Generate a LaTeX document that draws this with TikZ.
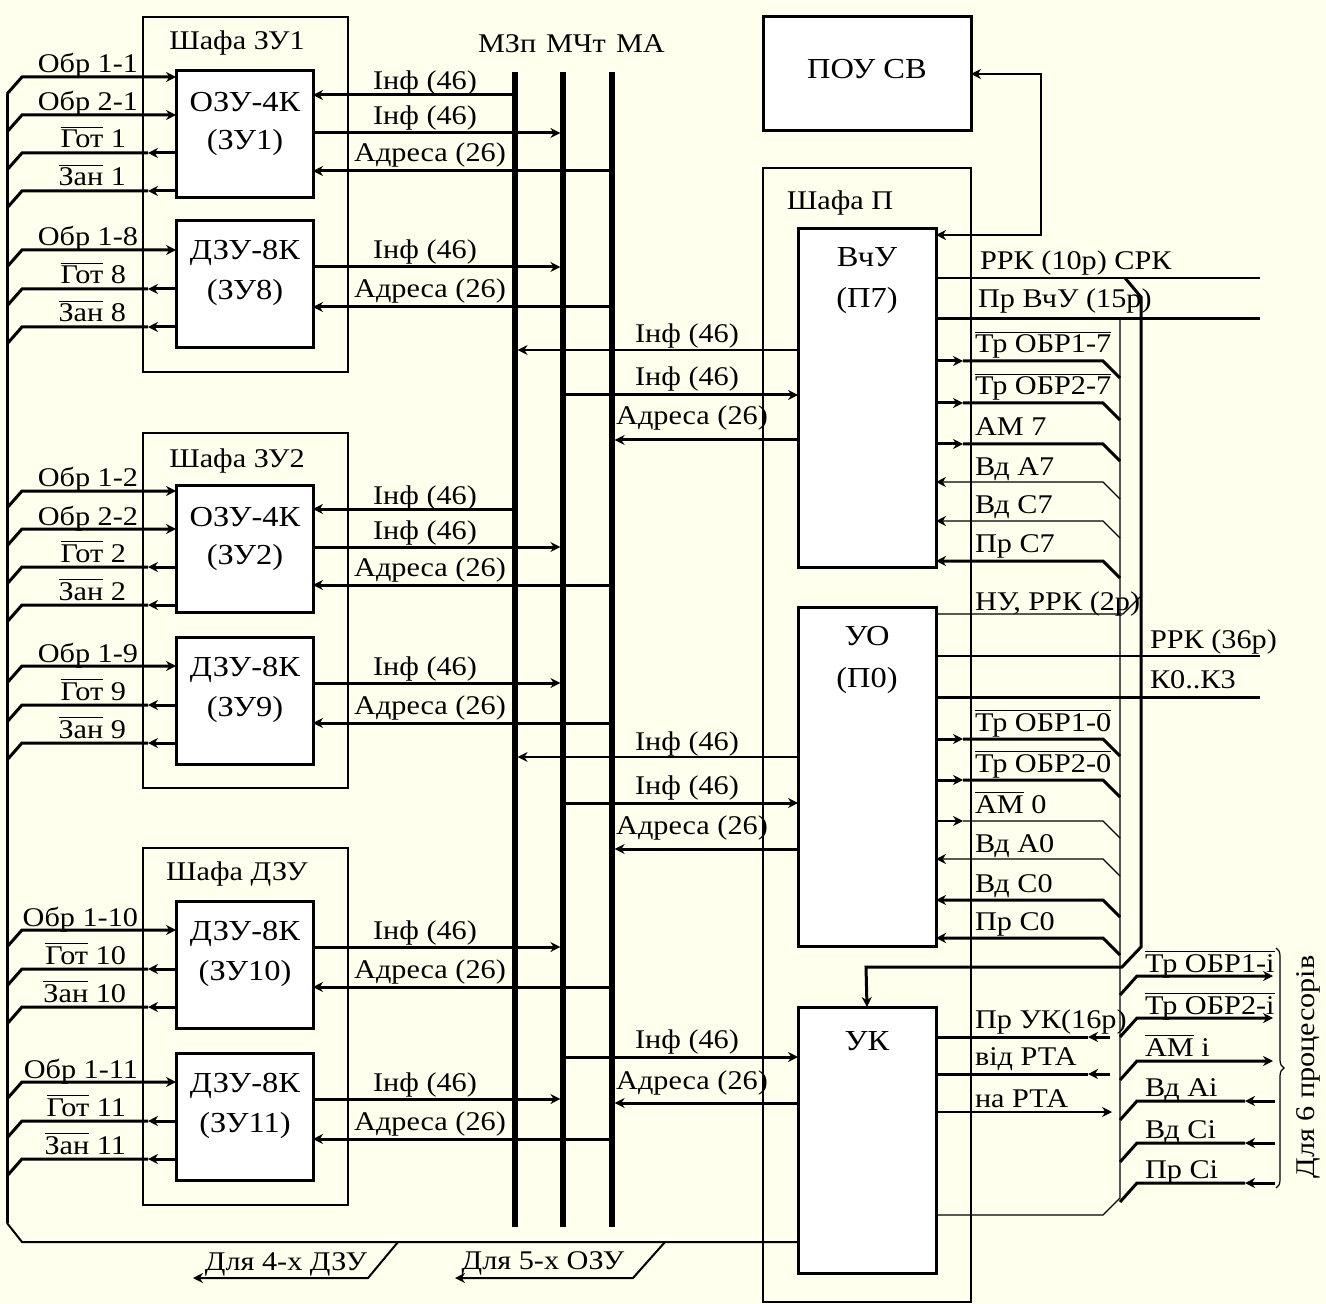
\documentclass[tikz,border=0pt]{standalone}
\usepackage{fontspec}
\setmainfont[FakeStretch=1.12]{Liberation Serif}
\usetikzlibrary{arrows.meta,decorations.pathreplacing}
\definecolor{cream}{RGB}{255,255,238}
\newcommand{\ovl}[1]{$\overline{\hbox{#1}}$}

\begin{document}
\begin{tikzpicture}
[x=0.5pt,y=-0.5pt
,every node/.style={font=\fontsize{13.5}{20}\selectfont,inner sep=0pt,outer sep=0pt}
,shafa/.style={draw,line width=1.3pt,anchor=north west}
,blk/.style={draw,line width=1.5pt,fill=white,anchor=north west,minimum width=68.5pt}
,bt/.style={anchor=base,font=\fontsize{14.5}{20}\selectfont}
,bus/.style={line width=2.6pt}
,sig/.style={line width=1.5pt}
,msig/.style={line width=1pt}
,tsig/.style={line width=0.6pt}
,ar/.style={arrows={-Stealth[length=5pt,width=5pt]}}
,ra/.style={arrows={Stealth[length=5pt,width=5pt]-}}
,ba/.style={arrows={Stealth[length=5pt,width=5pt]-Stealth[length=5pt,width=5pt]}}
,tob/.style={shorten >=1.3pt}
,lb/.style={anchor=base}
,lbw/.style={anchor=base west}
,lbe/.style={anchor=base east}
]
\fill[cream] (0,0) rectangle (1326,1304);

% cabinets
\node[shafa,minimum width=102.5pt,minimum height=177.5pt] (sh1) at (143,17) {};
\node[shafa,minimum width=102.5pt,minimum height=177.5pt] (sh2) at (143,433) {};
\node[shafa,minimum width=102.5pt,minimum height=178.5pt] (sh3) at (143,848) {};
\node[shafa,minimum width=104pt,minimum height=567pt] (shp) at (763,168) {};
\node[lb] (sh1t) at (237,50) {Шафа ЗУ1};
\node[lb] (sh2t) at (237,467) {Шафа ЗУ2};
\node[lb] (sh3t) at (237,880) {Шафа ДЗУ};
\node[lb] (shpt) at (840,210) {Шафа П};

% buses
\coordinate (mzp) at (515,72);
\coordinate (mcht) at (563,72);
\coordinate (ma) at (612,72);
\draw[bus] (mzp) -- (mzp |- 0,1227);
\draw[bus] (mcht) -- (mcht |- 0,1227);
\draw[bus] (ma) -- (ma |- 0,1227);
\node[lbw] (mzpt) at (478,53) {МЗп};
\node[lbw] (mchtt) at (546,53) {МЧт};
\node[lbw] (mat) at (616,53) {МА};

% processor blocks
\node[blk,minimum width=104pt,minimum height=57pt] (pou) at (763,17) {};
\node[bt] (pout) at (867,79) {ПОУ СВ};
\node[blk,minimum width=69pt,minimum height=169pt] (vchu) at (798,229) {};
\node[bt] (vchut1) at (867,267) {ВчУ};
\node[bt] (vchut2) at (867,308) {(П7)};
\node[blk,minimum width=69pt,minimum height=169.5pt] (uo) at (798,607) {};
\node[bt] (uot1) at (867,645) {УО};
\node[bt] (uot2) at (867,687) {(П0)};
\node[blk,minimum width=69pt,minimum height=133pt] (uk) at (798,1007) {};
\node[bt] (ukt) at (867,1050) {УК};

% common line of the memory signals
\draw[sig] (7,94) -- (7,1223);
\draw[msig] (7,1223) -- (22,1242) -- (uk.west |- 0,1242);
\draw[msig,ar] (398,1242) -- (368,1278) -- (193,1278);
\draw[msig,ar] (665,1242) -- (633,1278) -- (455,1278);
\node[lb] (d4) at (286,1270) {Для 4-х ДЗУ};
\node[lb] (d5) at (543,1269) {Для 5-х ОЗУ};

% OZU blocks
\foreach \bk/\ty/\nr in {zu1/71/1,zu2/485/2}{
  \node[blk,minimum height=63.5pt] (\bk) at (176,\ty) {};
  \node[bt] (\bk-t1) at (245,\ty+41) {ОЗУ-4К};
  \node[bt] (\bk-t2) at (245,\ty+79) {(ЗУ\nr)};
  \draw[sig,ar] (7,\ty+23) -- (22,\ty+6) -- (\bk.west |- 0,\ty+6);
  \draw[sig,ar] (7,\ty+61) -- (22,\ty+44) -- (\bk.west |- 0,\ty+44);
  \draw[sig,ar] (\bk.west |- 0,\ty+82) -- (148,\ty+82);
  \draw[sig] (148,\ty+82) -- (22,\ty+82) -- (7,\ty+99);
  \draw[sig,ar] (\bk.west |- 0,\ty+120) -- (148,\ty+120);
  \draw[sig] (148,\ty+120) -- (22,\ty+120) -- (7,\ty+137);
  \node[lbe] (\bk-o1) at (138,\ty+2) {Обр 1-\nr};
  \node[lbe] (\bk-o2) at (138,\ty+40) {Обр 2-\nr};
  \node[lbe] (\bk-g) at (126,\ty+77) {\ovl{Гот} \nr};
  \node[lbe] (\bk-z) at (126,\ty+115) {\ovl{Зан} \nr};
  \draw[sig,ar] (mzp |- 0,\ty+24) -- (\bk.east |- 0,\ty+24);
  \draw[sig,ar,tob] (\bk.east |- 0,\ty+62) -- (mcht |- 0,\ty+62);
  \draw[sig,ar] (ma |- 0,\ty+100) -- (\bk.east |- 0,\ty+100);
  \node[lb] (\bk-i1) at (425,\ty+19) {Інф (46)};
  \node[lb] (\bk-i2) at (425,\ty+54) {Інф (46)};
  \node[lb] (\bk-a) at (430,\ty+91) {Адреса (26)};
}

% DZU blocks
\foreach \bk/\ty/\nr in {zu8/221/8,zu9/637/9,zu10/901/10,zu11/1053/11}{
  \node[blk,minimum height=63.5pt] (\bk) at (176,\ty) {};
  \node[bt] (\bk-t1) at (245,\ty+39) {ДЗУ-8К};
  \node[bt] (\bk-t2) at (245,\ty+79) {(ЗУ\nr)};
  \draw[sig,ar] (7,\ty+46) -- (22,\ty+29) -- (\bk.west |- 0,\ty+29);
  \draw[sig,ar] (\bk.west |- 0,\ty+68) -- (148,\ty+68);
  \draw[sig] (148,\ty+68) -- (22,\ty+68) -- (7,\ty+85);
  \draw[sig,ar] (\bk.west |- 0,\ty+106) -- (148,\ty+106);
  \draw[sig] (148,\ty+106) -- (22,\ty+106) -- (7,\ty+123);
  \node[lbe] (\bk-o1) at (138,\ty+25) {Обр 1-\nr};
  \node[lbe] (\bk-g) at (126,\ty+63) {\ovl{Гот} \nr};
  \node[lbe] (\bk-z) at (126,\ty+101) {\ovl{Зан} \nr};
  \draw[sig,ar,tob] (\bk.east |- 0,\ty+46) -- (mcht |- 0,\ty+46);
  \draw[sig,ar] (ma |- 0,\ty+86) -- (\bk.east |- 0,\ty+86);
  \node[lb] (\bk-i) at (425,\ty+38) {Інф (46)};
  \node[lb] (\bk-a) at (430,\ty+77) {Адреса (26)};
}

% processors to the buses
\draw[tsig,ar,tob] (vchu.west |- 0,350) -- (mzp |- 0,350);
\draw[sig,ar] (mcht |- 0,395) -- (vchu.west |- 0,395);
\draw[sig,ar,tob] (vchu.west |- 0,440) -- (ma |- 0,440);
\draw[tsig,ar,tob] (uo.west |- 0,757) -- (mzp |- 0,757);
\draw[sig,ar] (mcht |- 0,803) -- (uo.west |- 0,803);
\draw[sig,ar,tob] (uo.west |- 0,849) -- (ma |- 0,849);
\draw[sig,ar] (mcht |- 0,1057) -- (uk.west |- 0,1057);
\draw[sig,ar,tob] (uk.west |- 0,1103) -- (ma |- 0,1103);
\node[lb] (vi1) at (687,343) {Інф (46)};
\node[lb] (vi2) at (687,386) {Інф (46)};
\node[lb] (va) at (692,425) {Адреса (26)};
\node[lb] (ui1) at (687,750) {Інф (46)};
\node[lb] (ui2) at (687,794) {Інф (46)};
\node[lb] (ua) at (692,834) {Адреса (26)};
\node[lb] (ki) at (687,1048) {Інф (46)};
\node[lb] (ka) at (692,1089) {Адреса (26)};

% ПОУ СВ link
\draw[msig,ba] (vchu.east |- 0,235) -- (1041,235) -- (1041,74) -- (pou.east |- 0,74);

% control lines on the right
\draw[tsig] (vchu.east |- 0,278) -- (1260,278);
\draw[sig] (vchu.east |- 0,319) -- (1260,319);
\node[lbw] (rrk10) at (980,270) {РРК (10р) СРК};
\node[lbw] (prv) at (978,308) {Пр ВчУ (15р)};
\draw[sig,ar] (1125,278) -- (1141,297) -- (1141,947) -- (1122,967) -- (866,967) -- (uk.north);
\draw[tsig] (1120,319) -- (1120,1198) -- (1103,1215) -- (uk.east |- 0,1215);

\foreach \bk/\y/\s in {vchu/361/sig,vchu/403/sig,vchu/444/sig,uo/739/sig,uo/780/sig,uo/821/tsig}{
  \draw[\s,ar] (\bk.east |- 0,\y) -- (963,\y);
  \draw[\s] (963,\y) -- (1103,\y) -- (1120,\y+17);
}
\foreach \bk/\y/\s in {vchu/482/tsig,vchu/521/tsig,vchu/561/sig,uo/859/tsig,uo/900/sig,uo/938/sig}{
  \draw[\s,ra] (\bk.east |- 0,\y) -- (1103,\y) -- (1120,\y+17);
}
\node[lbw] (v1) at (975,353) {\ovl{Тр ОБР1-7}};
\node[lbw] (v2) at (975,395) {\ovl{Тр ОБР2-7}};
\node[lbw] (v3) at (975,436) {АМ 7};
\node[lbw] (v4) at (975,475) {Вд А7};
\node[lbw] (v5) at (975,513) {Вд С7};
\node[lbw] (v6) at (975,552) {Пр С7};
\node[lbw] (u1) at (975,731) {\ovl{Тр ОБР1-0}};
\node[lbw] (u2) at (975,772) {\ovl{Тр ОБР2-0}};
\node[lbw] (u3) at (975,813) {\ovl{АМ} 0};
\node[lbw] (u4) at (975,852) {Вд А0};
\node[lbw] (u5) at (975,892) {Вд С0};
\node[lbw] (u6) at (975,930) {Пр С0};

\draw[tsig] (uo.east |- 0,614) -- (1123,614) -- (1141,596);
\draw[tsig] (uo.east |- 0,656) -- (1260,656);
\draw[sig] (uo.east |- 0,697) -- (1260,697);
\node[lbw] (nu) at (975,610) {НУ, РРК (2р)};
\node[lbw] (rrk36) at (1150,648) {РРК (36р)};
\node[lbw] (k03) at (1150,688) {К0..К3};

% УК signals
\draw[sig] (uk.east |- 0,1037) -- (1088,1037);
\draw[sig,ra] (1088,1037) -- (1110,1037);
\draw[sig] (uk.east |- 0,1074) -- (1088,1074);
\draw[sig,ra] (1088,1074) -- (1110,1074);
\draw[tsig,ar] (uk.east |- 0,1112) -- (1112,1112);
\node[lbw] (pruk) at (975,1028) {Пр УК(16р)};
\node[lbw] (vrta) at (975,1065) {від РТА};
\node[lbw] (nrta) at (975,1107) {на РТА};

% processors
\foreach \y in {976,1018,1061}{
  \draw[sig,ar] (1120,\y+19) -- (1137,\y) -- (1273,\y);
}
\foreach \y in {1101,1143,1183}{
  \draw[sig] (1120,\y+19) -- (1137,\y) -- (1245,\y);
  \draw[sig,ra] (1245,\y) -- (1275,\y);
}
\node[lbw] (p1) at (1145,972) {\ovl{Тр ОБР1-i}};
\node[lbw] (p2) at (1145,1014) {\ovl{Тр ОБР2-i}};
\node[lbw] (p3) at (1145,1056) {\ovl{АМ} i};
\node[lbw] (p4) at (1145,1096) {Вд Аi};
\node[lbw] (p5) at (1145,1138) {Вд Сi};
\node[lbw] (p6) at (1145,1178) {Пр Сi};
\draw[tsig,decorate,decoration={brace,amplitude=4pt}] (1276,948) -- (1276,1188);
\node[rotate=90] (n6) at (1308,1067) {Для 6 процесорів};
\end{tikzpicture}
\end{document}
